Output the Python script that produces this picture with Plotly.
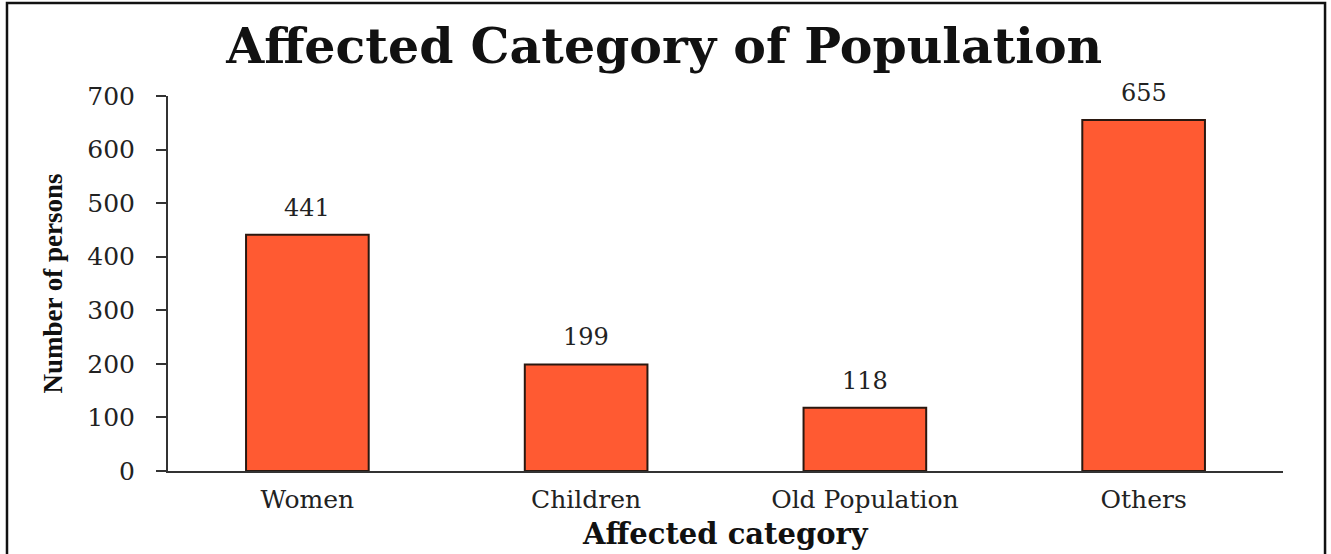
import plotly.graph_objects as go

categories = ["Women", "Children", "Old Population", "Others"]
values = [441, 199, 118, 655]
y_ticks = [0, 100, 200, 300, 400, 500, 600, 700]

title_text = "Affected Category of Population"
x_title = "Affected category"
y_title = "Number of persons"

BAR_COLOR = "#FF5A32"
EDGE = "#2a1810"
AXIS = "#333333"
SERIF = "DejaVu Serif"

fig = go.Figure()
fig.add_trace(go.Bar(
    x=categories, y=values,
    marker=dict(color=BAR_COLOR, line=dict(color=EDGE, width=2)),
    width=0.44,
    showlegend=False,
    hoverinfo="x+y",
))

annotations = []
for c, v in zip(categories, values):
    annotations.append(dict(
        x=c, y=v, xref="x", yref="y", text=str(v), showarrow=False,
        yanchor="bottom", yshift=11,
        font=dict(family=SERIF, size=24, color="#222222"),
    ))
annotations.append(dict(
    x=-0.104, y=0.5, xref="paper", yref="paper", text=f"<b>{y_title}</b>",
    showarrow=False, textangle=-90, xanchor="center", yanchor="middle",
    font=dict(family="Liberation Serif", size=27, color="#111111"),
))
annotations.append(dict(
    x=0.5, y=-0.168, xref="paper", yref="paper", text=f"<b>{x_title}</b>",
    showarrow=False, xanchor="center", yanchor="middle",
    font=dict(family=SERIF, size=29, color="#111111"),
))

fig.update_layout(
    width=1331, height=554,
    margin=dict(l=168, r=48, t=96, b=83),
    paper_bgcolor="white", plot_bgcolor="white",
    title=dict(text=f"<b>{title_text}</b>", x=0.499, xanchor="center",
               y=1 - 46 / 554, yanchor="middle", yref="container",
               font=dict(family=SERIF, size=49, color="#111111")),
    annotations=annotations,
    bargap=0.56,
    shapes=[dict(type="rect", xref="paper", yref="paper",
                 x0=-0.1444, x1=1.0377, y0=-0.25, y1=1.248,
                 line=dict(color="#111111", width=2.5), fillcolor="rgba(0,0,0,0)",
                 layer="below")],
)

fig.update_xaxes(
    showline=True, linecolor=AXIS, linewidth=2,
    ticks="outside", ticklen=5, tickcolor="rgba(0,0,0,0)",
    tickfont=dict(family=SERIF, size=25, color="#222222"),
    showgrid=False, zeroline=False,
)
fig.update_yaxes(
    range=[0, 700], tickvals=y_ticks, ticktext=[str(t) for t in y_ticks],
    showline=True, linecolor=AXIS, linewidth=2,
    ticks="outside", ticklen=10, tickwidth=2, tickcolor=AXIS,
    ticklabelstandoff=16,
    tickfont=dict(family=SERIF, size=25, color="#222222"),
    showgrid=False, zeroline=False,
)

fig.write_html("out.html")
